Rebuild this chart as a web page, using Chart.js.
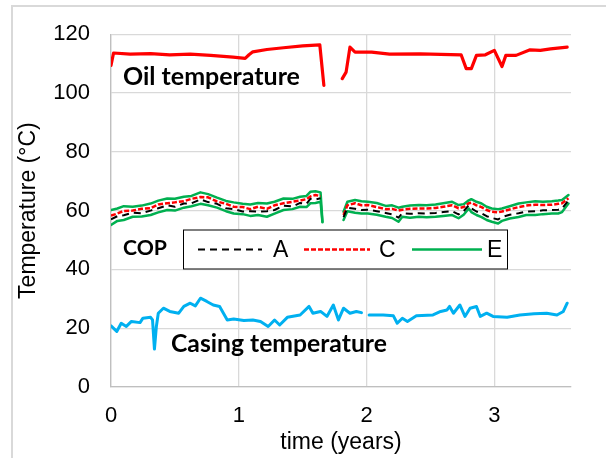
<!DOCTYPE html>
<html>
<head>
<meta charset="utf-8">
<script src="https://cdn.jsdelivr.net/npm/chart.js@4.4.0/dist/chart.umd.min.js"></script>
<style>
  html, body { margin: 0; padding: 0; background: #fff; }
  #wrap { position: relative; width: 606px; height: 458px; }
  #frame { position: absolute; left: 11px; top: 5px; right: 0; bottom: 0; border-left: 2px solid #d9d9d9; border-top: 2px solid #d9d9d9; }
  canvas { position: absolute; left: 0; top: 0; }
</style>
</head>
<body>
<div id="wrap">
  <div id="frame"></div>
  <canvas id="c" width="606" height="458"></canvas>
</div>
<script>
// ---------- data ----------
const xTickLabels = ['0', '1', '2', '3'];
const yTickLabels = ['0', '20', '40', '60', '80', '100', '120'];

const oilX = [0.00, 0.02, 0.15, 0.31, 0.46, 0.62, 0.78, 0.955, 1.05, 1.08, 1.11, 1.22, 1.35, 1.50, 1.634, 1.666, 1.74,
              1.81, 1.84, 1.87, 1.91, 2.04, 2.18, 2.42, 2.74, 2.78, 2.82, 2.86, 2.93, 3.00, 3.06, 3.09, 3.17, 3.28, 3.36, 3.44, 3.57];
const oilT = [109.4, 113.6, 113.2, 113.4, 113.0, 113.2, 112.8, 112.2, 111.8, 113.0, 114.0, 114.8, 115.4, 116.0, 116.4, 102.6, null,
              104.9, 107.1, 115.6, 113.9, 113.9, 113.2, 113.3, 113.0, 108.3, 108.3, 112.8, 113.0, 114.5, 109.0, 112.8, 112.8, 114.7, 114.5, 115.0, 115.6];

const copX = [0.00, 0.05, 0.10, 0.17, 0.24, 0.31, 0.37, 0.44, 0.50, 0.57, 0.63, 0.70, 0.76, 0.83, 0.90, 0.96, 1.03, 1.09, 1.15, 1.22, 1.28, 1.35, 1.42, 1.48, 1.53, 1.56, 1.60, 1.64, 1.655,
              1.73,
              1.82, 1.85, 1.91, 1.96, 2.01, 2.08, 2.15, 2.20, 2.25, 2.28, 2.34, 2.41, 2.47, 2.54, 2.60, 2.67, 2.72, 2.76, 2.80, 2.82, 2.86, 2.90, 2.94, 2.98, 3.03, 3.06, 3.12, 3.19, 3.25, 3.32, 3.38, 3.45, 3.50, 3.53, 3.58];
const copA = [57.0, 58.1, 58.4, 59.3, 59.1, 60.0, 60.8, 61.8, 61.3, 62.4, 62.5, 63.8, 62.9, 62.3, 60.8, 60.5, 59.7, 59.8, 59.7, 59.8, 60.2, 61.7, 61.4, 62.6, 62.3, 64.0, 63.8, 64.2, null,
              null,
              57.8, 61.0, 60.6, 60.2, 60.3, 59.8, 59.2, 58.7, 57.6, 59.1, 58.9, 59.1, 59.0, 59.2, 59.5, 59.8, 58.7, 59.8, 61.8, 60.8, 59.7, 59.1, 58.1, 57.5, 57.0, 57.8, 58.6, 59.1, 59.7, 59.8, 60.1, 60.2, 60.3, 60.7, 63.5];
const copC = [58.3, 59.0, 59.9, 60.0, 60.6, 60.8, 62.1, 62.5, 62.8, 63.2, 64.0, 64.6, 64.5, 63.1, 62.3, 61.3, 61.2, 60.5, 61.3, 60.6, 61.8, 62.5, 63.0, 63.4, 63.9, 64.8, 65.3, 64.9, null,
              null,
              58.5, 61.8, 62.5, 61.8, 61.9, 61.2, 60.5, 60.6, 60.0, 60.3, 60.6, 60.7, 60.7, 60.9, 61.3, 61.8, 60.8, 61.2, 62.5, 62.7, 61.8, 61.2, 60.2, 59.6, 59.4, 59.7, 60.4, 61.2, 61.7, 62.0, 61.9, 62.0, 62.3, 62.5, 64.2];
const copEhigh = [60.2, 60.7, 61.5, 61.3, 61.7, 62.4, 63.4, 64.1, 64.0, 64.7, 65.0, 66.2, 65.6, 64.4, 63.3, 62.8, 62.3, 62.1, 62.6, 62.4, 63.0, 64.1, 64.0, 64.7, 65.0, 66.4, 66.6, 66.2, 56.2,
              null,
              59.6, 63.0, 63.6, 63.2, 63.0, 62.6, 61.6, 61.8, 61.0, 61.3, 61.7, 61.9, 61.8, 62.1, 62.5, 63.0, 61.9, 62.2, 63.5, 63.9, 63.0, 62.4, 61.3, 60.7, 60.5, 60.7, 61.5, 62.4, 62.8, 63.2, 63.0, 63.2, 63.4, 63.6, 65.3];
const copElow = [55.1, 56.5, 56.8, 57.9, 58.0, 58.5, 59.4, 60.2, 60.0, 61.0, 61.5, 62.3, 61.8, 61.0, 59.8, 59.0, 58.8, 58.2, 58.5, 57.9, 59.0, 60.2, 60.5, 61.3, 61.2, 62.5, 62.6, 63.0, 56.0,
              null,
              56.8, 59.8, 59.3, 59.0, 59.0, 58.6, 57.9, 57.5, 56.2, 57.9, 57.6, 57.9, 57.7, 57.9, 58.2, 58.5, 57.4, 58.6, 60.7, 59.5, 58.5, 57.8, 56.8, 56.2, 55.6, 56.5, 57.3, 57.8, 58.5, 58.5, 58.8, 59.0, 59.0, 59.5, 62.4];

const casX = [0.00, 0.045, 0.08, 0.12, 0.16, 0.227, 0.25, 0.31, 0.325, 0.34, 0.355, 0.37, 0.41, 0.46, 0.53, 0.57, 0.62, 0.66, 0.70, 0.75, 0.80, 0.85, 0.91, 0.96, 1.04, 1.11, 1.17, 1.23, 1.28, 1.32, 1.38, 1.48, 1.55, 1.58, 1.64, 1.69, 1.74, 1.78, 1.82, 1.87, 1.92, 1.96,
              1.99,
              2.02, 2.13, 2.21, 2.24, 2.28, 2.32, 2.39, 2.52, 2.58, 2.63, 2.65, 2.68, 2.73, 2.77, 2.81, 2.86, 2.89, 2.94, 2.99, 3.10, 3.20, 3.31, 3.41, 3.49, 3.54, 3.57];
const casT = [20.8, 18.9, 21.7, 20.6, 22.3, 21.9, 23.4, 23.7, 22.8, 12.9, 20.6, 25.1, 26.8, 25.7, 25.1, 27.4, 28.5, 27.6, 30.2, 29.1, 27.9, 27.4, 22.8, 23.1, 22.6, 22.8, 22.3, 20.6, 22.8, 21.1, 23.7, 24.5, 27.4, 25.1, 25.7, 24.0, 27.9, 22.8, 26.8, 25.1, 25.7, 25.3,
              null,
              24.5, 24.5, 24.2, 21.7, 23.4, 22.3, 24.2, 24.5, 25.7, 26.2, 27.4, 25.1, 27.9, 24.0, 26.8, 27.4, 24.0, 25.1, 24.0, 23.7, 24.5, 24.9, 25.1, 24.5, 25.7, 28.5];

const seriesNames = ['A', 'C', 'E'];
const annotationTexts = ['Oil temperature', 'COP', 'Casing temperature'];

// ---------- helpers ----------
function pts(xs, ys) { return xs.map((x, i) => ({ x: x, y: ys[i] })); }

const RED = '#ff0000', GREEN = '#00b050', BLUE = '#00b0f0', BLACK = '#000000';
const TICK_FONT = { family: '"Liberation Sans", Arial, sans-serif', size: 22 };
const TITLE_FONT = { family: '"Liberation Sans", Arial, sans-serif', size: 23 };

const datasets = [
  { label: 'Oil', data: pts(oilX, oilT), borderColor: RED, borderWidth: 3.2, order: 1 },
  { label: seriesNames[0], data: pts(copX, copA), borderColor: BLACK, borderWidth: 2, borderDash: [7, 5], order: 2 },
  { label: seriesNames[1], data: pts(copX, copC), borderColor: RED, borderWidth: 2.5, borderDash: [5, 2], order: 3 },
  { label: seriesNames[2], data: pts(copX, copEhigh), borderColor: GREEN, borderWidth: 2.5, order: 4 },
  { label: seriesNames[2] + '_low', data: pts(copX, copElow), borderColor: GREEN, borderWidth: 2.5, order: 4 },
  { label: 'Casing', data: pts(casX, casT), borderColor: BLUE, borderWidth: 3, order: 1 }
];
datasets.forEach(d => { d.pointRadius = 0; d.tension = 0; d.fill = false; d.spanGaps = false; d.borderCapStyle = 'round'; d.borderJoinStyle = 'round'; });
datasets[1].borderCapStyle = 'butt';
datasets[2].borderCapStyle = 'butt';

// ---------- annotation + legend plugin ----------
const overlay = {
  id: 'overlay',
  afterDatasetsDraw(chart) {
    const ctx = chart.ctx;
    ctx.save();
    function boldText(txt, left, cy, targetW) {
      ctx.font = 'bold 20px Lato, "Open Sans", sans-serif';
      const w = ctx.measureText(txt).width;
      const size = 20 * targetW / w;
      ctx.font = 'bold ' + size.toFixed(2) + 'px Lato, "Open Sans", sans-serif';
      ctx.fillStyle = '#000';
      ctx.textBaseline = 'middle';
      ctx.textAlign = 'left';
      ctx.fillText(txt, left, cy);
    }
    boldText(annotationTexts[0], 123, 77, 177);
    boldText(annotationTexts[1], 123, 248, 44);
    boldText(annotationTexts[2], 171, 344, 216);

    // legend box
    const bx = 183, by = 229.5, bw = 325, bh = 40;
    ctx.fillStyle = '#fff';
    ctx.fillRect(bx, by, bw, bh);
    ctx.strokeStyle = '#000';
    ctx.lineWidth = 1;
    ctx.strokeRect(bx + 0.5, by + 0.5, bw - 1, bh - 1);
    const cy = by + bh / 2;
    const items = [
      { ds: 1, x0: 198, x1: 262, tx: 273, label: seriesNames[0] },
      { ds: 2, x0: 304, x1: 370, tx: 379, label: seriesNames[1] },
      { ds: 3, x0: 412, x1: 482, tx: 487, label: seriesNames[2] }
    ];
    items.forEach(it => {
      const d = chart.data.datasets[it.ds];
      ctx.beginPath();
      ctx.strokeStyle = d.borderColor;
      ctx.lineWidth = d.borderWidth;
      ctx.lineCap = 'butt';
      ctx.setLineDash(d.borderDash || []);
      ctx.moveTo(it.x0, cy);
      ctx.lineTo(it.x1, cy);
      ctx.stroke();
      ctx.setLineDash([]);
      ctx.font = '23px "Liberation Sans", Arial, sans-serif';
      ctx.fillStyle = '#000';
      ctx.textAlign = 'left';
      ctx.textBaseline = 'middle';
      ctx.fillText(it.label, it.tx, cy + 1);
    });
    ctx.restore();
  }
};

new Chart(document.getElementById('c'), {
  type: 'line',
  data: { datasets: datasets },
  plugins: [overlay],
  options: {
    responsive: false,
    animation: false,
    events: [],
    layout: { padding: { left: 0, top: 34, right: 35, bottom: 0 } },
    plugins: { legend: { display: false }, tooltip: { enabled: false } },
    scales: {
      x: {
        type: 'linear',
        min: 0, max: 3.6,
        afterFit: s => { s.height = 71; },
        ticks: {
          stepSize: 1, includeBounds: false, padding: 16,
          font: TICK_FONT, color: '#000',
          callback: (v) => xTickLabels[v] !== undefined ? xTickLabels[v] : ''
        },
        grid: { color: '#d9d9d9', lineWidth: 1.3, drawTicks: false },
        border: { color: '#bfbfbf', width: 1.3 },
        title: { display: true, text: 'time (years)', font: TITLE_FONT, color: '#000', padding: { top: 0, bottom: 2 } }
      },
      y: {
        min: 0, max: 120,
        afterFit: s => { s.width = 111; },
        ticks: {
          stepSize: 20, padding: 21,
          font: TICK_FONT, color: '#000',
          callback: (v) => yTickLabels[v / 20]
        },
        grid: { color: '#d9d9d9', lineWidth: 1.3, drawTicks: false },
        border: { color: '#bfbfbf', width: 1.3 },
        title: { display: true, text: 'Temperature (°C)', font: TITLE_FONT, color: '#000', padding: { top: 15, bottom: 0 } }
      }
    }
  }
});
</script>
</body>
</html>
